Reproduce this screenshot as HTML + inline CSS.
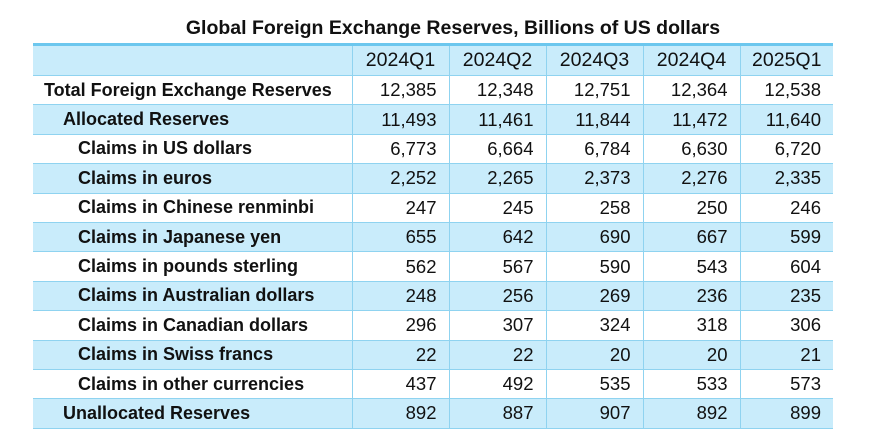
<!DOCTYPE html>
<html><head><meta charset="utf-8"><style>
body{margin:0;width:871px;height:447px;background:#fff;font-family:"Liberation Sans",sans-serif;position:relative;overflow:hidden}
#title{position:absolute;left:33px;width:840px;top:17px;text-align:center;font-size:19.5px;font-weight:bold;color:#111}
table{position:absolute;left:33px;top:43px;border-collapse:collapse;border-top:3px solid #6cc7ee}
td{height:29.4px;padding:0;font-size:18.5px;color:#111;box-sizing:border-box;border-bottom:1px solid #8fd3f0}
td.n{text-align:right;padding-right:12px;border-left:1.5px solid #8fd3f0}
tr.b td{background:#c9ecfb}
tr.h td{text-align:center;padding-right:0;height:31px;font-size:19.5px}
td.l{width:319px;font-weight:bold;font-size:18px}
</style></head><body>
<div id="title">Global Foreign Exchange Reserves, Billions of US dollars</div>
<table>
<tbody id="tb"></tbody></table>
<script>
const quarters=["2024Q1","2024Q2","2024Q3","2024Q4","2025Q1"];
const labels=["Total Foreign Exchange Reserves","Allocated Reserves","Claims in US dollars","Claims in euros","Claims in Chinese renminbi","Claims in Japanese yen","Claims in pounds sterling","Claims in Australian dollars","Claims in Canadian dollars","Claims in Swiss francs","Claims in other currencies","Unallocated Reserves"];
const indents=[11,30,45,45,45,45,45,45,45,45,45,30];
const values=[["12,385","12,348","12,751","12,364","12,538"],["11,493","11,461","11,844","11,472","11,640"],["6,773","6,664","6,784","6,630","6,720"],["2,252","2,265","2,373","2,276","2,335"],["247","245","258","250","246"],["655","642","690","667","599"],["562","567","590","543","604"],["248","256","269","236","235"],["296","307","324","318","306"],["22","22","20","20","21"],["437","492","535","533","573"],["892","887","907","892","899"]];
const widths=[97,97,97,97,93];
const tb=document.getElementById('tb');
let tr=document.createElement('tr');tr.className='h b';


let c=document.createElement('td');c.className='l';tr.appendChild(c);
quarters.forEach((q,i)=>{const td=document.createElement('td');td.className='n';td.style.width=widths[i]+'px';td.textContent=q;


tr.appendChild(td);});
tb.appendChild(tr);
labels.forEach((l,r)=>{const tr=document.createElement('tr');if(r%2==1)tr.className='b';


const td=document.createElement('td');td.className='l';td.style.paddingLeft=indents[r]+'px';td.textContent=l;


tr.appendChild(td);
values[r].forEach(v=>{const d=document.createElement('td');d.className='n';d.textContent=v;


tr.appendChild(d);});
tb.appendChild(tr);});
</script>
</body></html>
